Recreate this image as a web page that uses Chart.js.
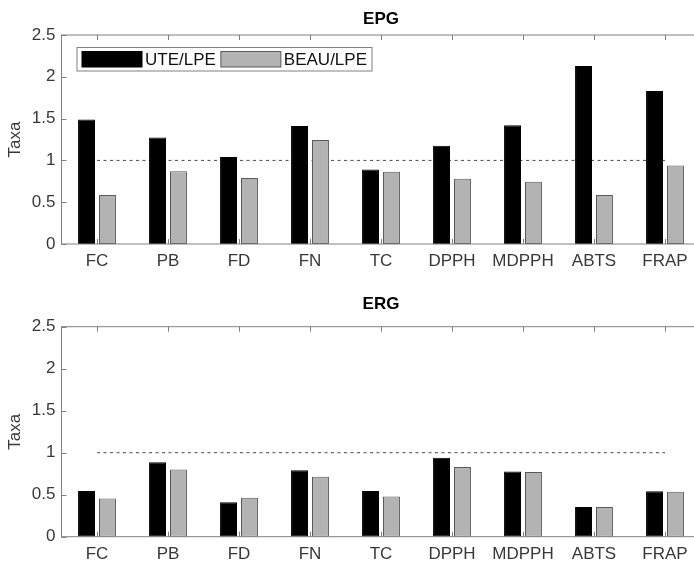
<!DOCTYPE html>
<html>
<head>
<meta charset="utf-8">
<title>EPG / ERG</title>
<script src="https://cdn.jsdelivr.net/npm/chart.js@4"></script>
<style>
  html, body { margin: 0; padding: 0; background: #fff; overflow: hidden; }
  .box { position: absolute; left: 0; width: 702px; }
  #topBox { top: 0; height: 280px; }
  #botBox { top: 280px; height: 281px; }
</style>
</head>
<body>
<div class="box" id="topBox"><canvas id="epgChart"></canvas></div>
<div class="box" id="botBox"><canvas id="ergChart"></canvas></div>
<script>
// categorias e valores
var categories = ['FC', 'PB', 'FD', 'FN', 'TC', 'DPPH', 'MDPPH', 'ABTS', 'FRAP'];
var seriesNames = ['UTE/LPE', 'BEAU/LPE'];
var epgUte  = [1.49, 1.275, 1.04, 1.41, 0.89, 1.175, 1.42, 2.13, 1.83];
var epgBeau = [0.585, 0.87, 0.79, 1.245, 0.865, 0.78, 0.745, 0.585, 0.94];
var ergUte  = [0.545, 0.885, 0.41, 0.79, 0.545, 0.94, 0.775, 0.355, 0.54];
var ergBeau = [0.455, 0.80, 0.465, 0.715, 0.48, 0.83, 0.77, 0.355, 0.535];
var refLine = [1, 1, 1, 1, 1, 1, 1, 1, 1];
var yTicks = [0, 0.5, 1, 1.5, 2, 2.5];

var FONT = 'Liberation Sans, Arial, Helvetica, sans-serif';
var TEXT = '#383838';
var AXIS = '#808080';

// caixa, ticks internos, titulo e legenda no estilo MATLAB
var matlabAxes = {
    id: 'matlabAxes',
    afterDraw: function(chart, args, opts) {
        var ctx = chart.ctx, a = chart.chartArea;
        var xs = chart.scales.x, ys = chart.scales.y;
        ctx.save();
        ctx.strokeStyle = AXIS;
        ctx.lineWidth = 1;
        ctx.strokeRect(a.left, a.top, a.right - a.left, a.bottom - a.top);
        ctx.beginPath();
        for (var i = 0; i < categories.length; i++) {
            var px = Math.round(xs.getPixelForValue(i)) + 0.5;
            ctx.moveTo(px, a.bottom); ctx.lineTo(px, a.bottom - 5);
            ctx.moveTo(px, a.top); ctx.lineTo(px, a.top + 5);
        }
        for (var j = 0; j < yTicks.length; j++) {
            var py = Math.round(ys.getPixelForValue(yTicks[j])) + 0.5;
            ctx.moveTo(a.left, py); ctx.lineTo(a.left + 5, py);
            ctx.moveTo(a.right, py); ctx.lineTo(a.right - 5, py);
        }
        ctx.stroke();

        ctx.fillStyle = '#000';
        ctx.font = 'bold 17px ' + FONT;
        ctx.textAlign = 'center';
        ctx.textBaseline = 'middle';
        ctx.fillText(opts.title, (a.left + a.right) / 2, opts.titleY);

        if (opts.legend) {
            ctx.font = '17px ' + FONT;
            var lx = a.left + 15.5, ly = a.top + 12.5, h = 23.5;
            var items = chart.data.datasets.filter(function(d) { return d.type !== 'line'; });
            var w = 5;
            items.forEach(function(d) { w += 60 + 3 + ctx.measureText(d.label).width + 5; });
            ctx.fillStyle = '#fff';
            ctx.fillRect(lx, ly, w, h);
            ctx.strokeStyle = AXIS;
            ctx.strokeRect(lx, ly, w, h);
            var cx = lx + 5;
            items.forEach(function(d) {
                ctx.fillStyle = d.backgroundColor;
                ctx.fillRect(cx, ly + 4, 60, h - 8);
                ctx.strokeStyle = d.borderColor;
                ctx.strokeRect(cx, ly + 4, 60, h - 8);
                ctx.fillStyle = '#111';
                ctx.textAlign = 'left';
                ctx.fillText(d.label, cx + 63, ly + h / 2 + 1);
                cx += 63 + ctx.measureText(d.label).width + 5;
            });
        }
        ctx.restore();
    }
};

function makeChart(id, ute, beau, title, lay) {
    return new Chart(document.getElementById(id), {
        type: 'bar',
        data: {
            labels: categories,
            datasets: [{
                label: seriesNames[0],
                data: ute,
                backgroundColor: '#000000',
                borderColor: '#000000',
                borderWidth: 1,
                borderSkipped: false,
                order: 0
            }, {
                label: seriesNames[1],
                data: beau,
                backgroundColor: '#b3b3b3',
                borderColor: '#595959',
                borderWidth: 1,
                borderSkipped: false,
                order: 0
            }, {
                type: 'line',
                label: 'ref',
                data: refLine,
                borderColor: '#4a4a4a',
                borderWidth: 1,
                borderDash: [3, 3.5],
                pointRadius: 0,
                fill: false,
                order: 1
            }]
        },
        options: {
            responsive: true,
            maintainAspectRatio: false,
            animation: false,
            categoryPercentage: 0.59,
            barPercentage: 0.81,
            layout: { padding: { top: lay.top, left: 0, right: 1.5, bottom: 0 } },
            plugins: {
                legend: { display: false },
                tooltip: { enabled: false },
                matlabAxes: { title: title, titleY: lay.titleY, legend: lay.legend }
            },
            scales: {
                x: {
                    grid: { display: false, drawTicks: false },
                    border: { display: false },
                    ticks: { color: TEXT, font: { family: FONT, size: 17 }, padding: 7, maxRotation: 0, autoSkip: false },
                    afterFit: function(s) { s.height = lay.xh; }
                },
                y: {
                    min: 0,
                    max: 2.5,
                    grid: { display: false, drawTicks: false },
                    border: { display: false },
                    afterBuildTicks: function(s) { s.ticks = yTicks.map(function(v) { return { value: v }; }); },
                    ticks: {
                        color: TEXT,
                        font: { family: FONT, size: 17 },
                        padding: 6,
                        callback: function(v) { return String(v); }
                    },
                    title: { display: true, text: 'Taxa', color: TEXT, font: { family: FONT, size: 17 }, padding: { top: 5, bottom: 0 } },
                    afterFit: function(s) { s.width = 61.5; }
                }
            }
        },
        plugins: [matlabAxes]
    });
}

var epgChart = makeChart('epgChart', epgUte, epgBeau, 'EPG', { top: 35, xh: 36, titleY: 19, legend: true });
var ergChart = makeChart('ergChart', ergUte, ergBeau, 'ERG', { top: 46.7, xh: 24.3, titleY: 24, legend: false });
</script>
</body>
</html>
